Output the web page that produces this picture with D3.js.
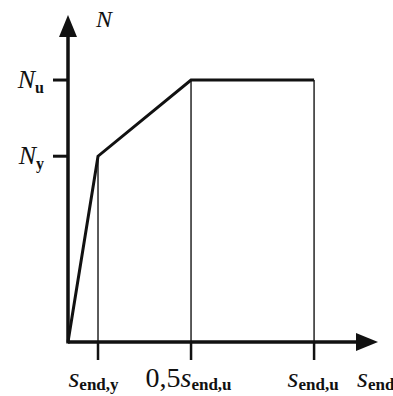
<!DOCTYPE html>
<html><head><meta charset="utf-8">
<script src="https://cdn.jsdelivr.net/npm/d3@7"></script>
<style>
html,body{margin:0;padding:0;background:#fff;}
svg{display:block;}
text{font-family:"Liberation Serif","Times New Roman",serif;fill:#111;}
</style></head>
<body>
<script>
// Data (dimensionless, relative to s_end,y and N_y)
const curveS = [0, 1, 4.1, 8.2];
const curveN = [0, 1, 1.41, 1.41];
const dropS = [1, 4.1, 8.2];
const dropN = [1, 1.41, 1.41];
const xTickValues = [1, 4.1, 8.2];
const xTickLabels = [
  {pre: "", main: "s", sub: "end,y"},
  {pre: "0,5", main: "s", sub: "end,u"},
  {pre: "", main: "s", sub: "end,u"}
];
const yTickValues = [1, 1.41];
const yTickLabels = [{main: "N", sub: "y"}, {main: "N", sub: "u"}];
const xAxisMax = 10.33, yAxisMax = 1.76;

const W = 393, H = 396;
const svg = d3.select("body").append("svg").attr("width", W).attr("height", H);
const x = d3.scaleLinear().domain([0, xAxisMax]).range([68, 378]);
const y = d3.scaleLinear().domain([0, yAxisMax]).range([342, 15]);

// drop lines
svg.selectAll("line.drop").data(dropS).join("line")
  .attr("x1", d => x(d)).attr("x2", d => x(d))
  .attr("y1", (d, i) => y(dropN[i])).attr("y2", y(0))
  .attr("stroke", "#333").attr("stroke-width", 1.6);

// curve
svg.append("path")
  .datum(curveS.map((s, i) => [s, curveN[i]]))
  .attr("d", d3.line().x(d => x(d[0])).y(d => y(d[1])))
  .attr("fill", "none").attr("stroke", "#111").attr("stroke-width", 3)
  .attr("stroke-linejoin", "miter");

// axes lines
const arrowLen = 22, arrowHalf = 9;
svg.append("line").attr("x1", x(0)).attr("x2", x(xAxisMax) - arrowLen + 2)
  .attr("y1", y(0)).attr("y2", y(0)).attr("stroke", "#111").attr("stroke-width", 3.5);
svg.append("line").attr("x1", x(0)).attr("x2", x(0))
  .attr("y1", y(0) + 1.5).attr("y2", y(yAxisMax) + arrowLen - 2).attr("stroke", "#111").attr("stroke-width", 3.5);
// arrowheads
const xt = x(xAxisMax), yt = y(yAxisMax);
svg.append("path").attr("d", `M${xt},${y(0)}L${xt - arrowLen},${y(0) - arrowHalf}L${xt - arrowLen},${y(0) + arrowHalf}Z`).attr("fill", "#111");
svg.append("path").attr("d", `M${x(0)},${yt}L${x(0) - arrowHalf},${yt + arrowLen}L${x(0) + arrowHalf},${yt + arrowLen}Z`).attr("fill", "#111");

// x ticks
svg.selectAll("line.xt").data(xTickValues).join("line")
  .attr("x1", d => x(d)).attr("x2", d => x(d))
  .attr("y1", y(0)).attr("y2", y(0) + 18)
  .attr("stroke", "#111").attr("stroke-width", 2.5);
// y ticks
svg.selectAll("line.yt").data(yTickValues).join("line")
  .attr("x1", x(0) - 15).attr("x2", x(0))
  .attr("y1", d => y(d)).attr("y2", d => y(d))
  .attr("stroke", "#111").attr("stroke-width", 3);

// x tick labels
const xLabelOffsets = [-4.5, -2.5, -1];
xTickLabels.forEach((L, i) => {
  const t = svg.append("text").attr("x", x(xTickValues[i]) + xLabelOffsets[i]).attr("y", 387)
    .attr("text-anchor", "middle").attr("font-size", 28);
  if (L.pre) t.append("tspan").text(L.pre);
  t.append("tspan").attr("font-style", "italic").text(L.main);
  t.append("tspan").attr("font-size", 17).attr("font-weight", "bold").attr("dy", 3).text(L.sub);
});
// axis title x
{
  const t = svg.append("text").attr("x", 357).attr("y", 387).attr("font-size", 28);
  t.append("tspan").attr("font-style", "italic").text("s");
  t.append("tspan").attr("font-size", 17).attr("font-weight", "bold").attr("dy", 3).text("end");
}
// y tick labels
yTickLabels.forEach((L, i) => {
  const t = svg.append("text").attr("x", 44).attr("y", y(yTickValues[i]) + 8)
    .attr("text-anchor", "end").attr("font-size", 26);
  t.append("tspan").attr("font-style", "italic").text(L.main);
  t.append("tspan").attr("font-size", 16).attr("font-weight", "bold").attr("dy", 5).text(L.sub);
});
// axis title y
svg.append("text").attr("x", 96).attr("y", 27).attr("font-size", 24)
  .attr("font-style", "italic").text("N");
</script>
</body></html>
